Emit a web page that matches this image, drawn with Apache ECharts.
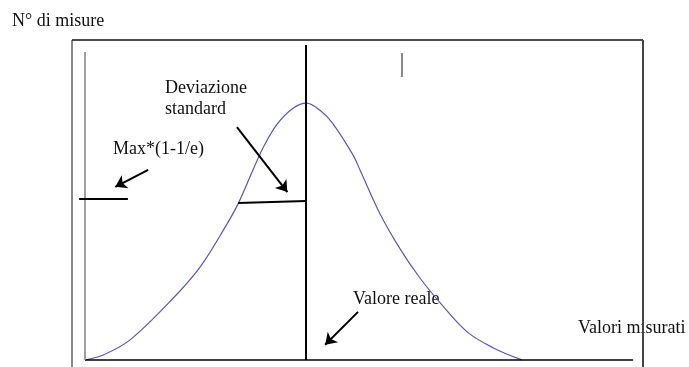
<!DOCTYPE html>
<html>
<head>
<meta charset="utf-8">
<script src="https://cdn.jsdelivr.net/npm/echarts@6/dist/echarts.min.js"></script>
<style>
    html, body { margin: 0; padding: 0; background: #fff; }
    #chart { width: 689px; height: 367px; }
</style>
</head>
<body>
<div id="chart"></div>
<script>
// curva di Gauss
var xValues = [0, 3.3, 8.2, 16.1, 21.0, 25.9, 28.0, 30.7, 32.5, 35.0, 38.0, 40.4, 42.9, 45.1, 48.9, 50.2, 53.8, 57.5, 61.1, 64.8, 69.7, 74.5, 79.7]
var yValues = [0, 1.6, 6.5, 20.1, 30.2, 44.2, 51.0, 62.0, 69.0, 76.5, 81.8, 83.4, 81.0, 77.0, 66.5, 61.5, 47.5, 36.0, 26.6, 18.5, 9.1, 3.9, 0]
var meanX = 40.3            // valore reale
var axisMax = 100

var curve = xValues.map(function (x, i) { return [x, yValues[i]] })

var black = { color: '#000', width: 2, type: 'solid' }
var arrowEnd = function (coord) { return { coord: coord, symbol: 'arrow', symbolSize: 11 } }
var font = '18px "Liberation Serif"'

var myChart = echarts.init(document.getElementById('chart'))
myChart.setOption({
    animation: false,
    grid: { left: 72, right: 46, top: 40, bottom: 0 },
    xAxis: {
        type: 'value', min: -2.4, max: 101.8,
        axisLine: { show: false }, axisTick: { show: false },
        axisLabel: { show: false }, splitLine: { show: false }
    },
    yAxis: {
        type: 'value', min: -2.3, max: 103.9,
        axisLine: { show: false }, axisTick: { show: false },
        axisLabel: { show: false }, splitLine: { show: false }
    },
    series: [{
        type: 'line',
        data: curve,
        smooth: 0.35,
        showSymbol: false,
        clip: false,
        lineStyle: { color: '#5757bd', width: 1.2 },
        markLine: {
            silent: true,
            symbol: ['none', 'none'],
            label: { show: false },
            data: [
                // assi
                [{ coord: [0, 0], lineStyle: { color: '#000', width: 1.5, type: 'solid' } }, { coord: [axisMax, 0] }],
                [{ coord: [0, 0], lineStyle: { color: '#808080', width: 1.5, type: 'solid' } }, { coord: [0, axisMax] }],
                // valore reale
                [{ coord: [meanX, 0], lineStyle: black }, { coord: [meanX, 102.3] }],
                // deviazione standard
                [{ coord: [27.9, 51.0], lineStyle: black }, { coord: [meanX, 51.6] }],
                [{ coord: [-1.1, 52.3], lineStyle: black }, { coord: [7.8, 52.3] }],
                // trattino grigio in alto
                [{ coord: [57.7, 99.7], lineStyle: { color: '#888', width: 2, type: 'solid' } }, { coord: [57.7, 91.9] }],
                // frecce
                [{ coord: [27.7, 75.6], lineStyle: black }, arrowEnd([36.9, 54.5])],
                [{ coord: [11.5, 61.7], lineStyle: black }, arrowEnd([5.5, 56.2])],
                [{ coord: [49.8, 15.6], lineStyle: black }, arrowEnd([43.8, 4.9])]
            ]
        }
    }],
    graphic: [
        { type: 'text', left: 12, top: 12, style: { text: 'N° di misure', font: font, fill: '#111' } },
        { type: 'text', left: 165, top: 78, style: { text: 'Deviazione\nstandard', font: font, fill: '#111', lineHeight: 21 } },
        { type: 'text', left: 113, top: 140, style: { text: 'Max*(1-1/e)', font: font, fill: '#111' } },
        { type: 'text', left: 353, top: 290, style: { text: 'Valore reale', font: font, fill: '#111' } },
        { type: 'text', left: 578, top: 319, style: { text: 'Valori misurati', font: font, fill: '#111' } },
        // cornice
        { type: 'line', z: 10, shape: { x1: 72, y1: 367, x2: 72, y2: 40 }, style: { stroke: '#888', lineWidth: 2 } },
        { type: 'line', z: 10, shape: { x1: 72, y1: 40, x2: 643, y2: 40 }, style: { stroke: '#111', lineWidth: 1.5 } },
        { type: 'line', z: 10, shape: { x1: 643, y1: 40, x2: 643, y2: 367 }, style: { stroke: '#444', lineWidth: 2 } }
    ]
})
window.addEventListener('resize', function () {
    myChart.resize()
})
</script>
</body>
</html>
